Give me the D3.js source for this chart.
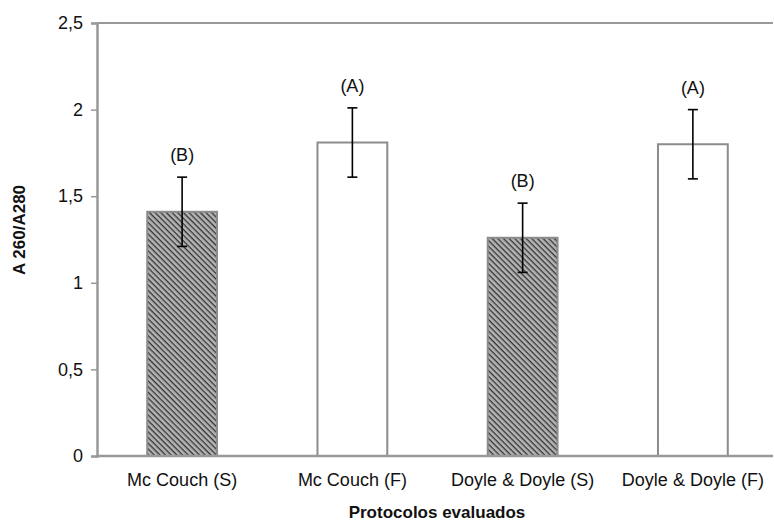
<!DOCTYPE html>
<html><head><meta charset="utf-8">
<script src="https://cdn.jsdelivr.net/npm/d3@7"></script>
<style>body{margin:0;background:#fff}svg{display:block;font-family:"Liberation Sans",Arial,sans-serif}</style>
</head><body>
<svg id="c" width="774" height="523"></svg>
<script>
const categories = ["Mc Couch (S)", "Mc Couch (F)", "Doyle & Doyle (S)", "Doyle & Doyle (F)"];
const values = [1.41, 1.81, 1.26, 1.80];
const errors = [0.2, 0.2, 0.2, 0.2];
const letters = ["(B)", "(A)", "(B)", "(A)"];
const hatched = [true, false, true, false];
const yTicks = [0, 0.5, 1, 1.5, 2, 2.5];
const yTickLabels = ["0", "0,5", "1", "1,5", "2", "2,5"];

const svg = d3.select("#c");
const L = 97, R = 778, T = 23, B = 456;
const FONT = "Liberation Sans, Arial, sans-serif";
const x = d3.scaleBand().domain(categories).range([L, R]).paddingInner(0.59).paddingOuter(0.295);
const y = d3.scaleLinear().domain([0, 2.5]).range([B, T]);

const defs = svg.append("defs");
const pat = defs.append("pattern").attr("id", "hatch").attr("patternUnits", "userSpaceOnUse")
  .attr("width", 4).attr("height", 4).attr("patternTransform", "rotate(45)");
pat.append("rect").attr("width", 4).attr("height", 4).attr("fill", "#b4b4b4");
pat.append("rect").attr("width", 4).attr("height", 1.3).attr("fill", "#333");

// top frame line
svg.append("line").attr("x1", L).attr("x2", 773).attr("y1", y(2.5)).attr("y2", y(2.5))
  .attr("stroke", "#999").attr("stroke-width", 2);

// bars
svg.selectAll("rect.bar").data(categories).join("rect").attr("class", "bar")
  .attr("x", d => x(d)).attr("width", x.bandwidth())
  .attr("y", (d, i) => y(values[i])).attr("height", (d, i) => B - y(values[i]))
  .attr("fill", (d, i) => hatched[i] ? "url(#hatch)" : "#fff")
  .attr("stroke", "#8c8c8c").attr("stroke-width", 2);

// y axis
const yAxis = d3.axisLeft(y).tickValues(yTicks).tickFormat((d, i) => yTickLabels[i]).tickSize(6).tickPadding(8);
const ga = svg.append("g").attr("transform", `translate(${L},0)`).call(yAxis);
ga.select(".domain").attr("stroke", "#999").attr("stroke-width", 2.5);
ga.selectAll(".tick line").attr("stroke", "#999").attr("stroke-width", 1.5);
ga.selectAll(".tick text").attr("font-size", 18).attr("fill", "#111").attr("font-family", FONT);

// x axis
const xAxis = d3.axisBottom(x).tickSize(0).tickPadding(17);
const gx = svg.append("g").attr("transform", `translate(0,${B})`).call(xAxis);
gx.select(".domain").attr("d", `M${L},0H773`).attr("stroke", "#999").attr("stroke-width", 2.5);
gx.selectAll(".tick text").attr("font-size", 18).attr("fill", "#111").attr("font-family", FONT);

// error bars
const eb = svg.append("g").attr("stroke", "#000").attr("stroke-width", 1.6);
categories.forEach((c, i) => {
  const cx = x(c) + x.bandwidth() / 2;
  const y1 = y(values[i] + errors[i]), y0 = y(values[i] - errors[i]);
  eb.append("line").attr("x1", cx).attr("x2", cx).attr("y1", y1).attr("y2", y0);
  eb.append("line").attr("x1", cx - 5).attr("x2", cx + 5).attr("y1", y1).attr("y2", y1);
  eb.append("line").attr("x1", cx - 5).attr("x2", cx + 5).attr("y1", y0).attr("y2", y0);
});

// letters
svg.selectAll("text.lab").data(categories).join("text").attr("class", "lab")
  .attr("x", d => x(d) + x.bandwidth() / 2)
  .attr("y", (d, i) => y(values[i] + errors[i]) - 16)
  .attr("text-anchor", "middle").attr("font-size", 18).attr("fill", "#111").attr("font-family", FONT)
  .text((d, i) => letters[i]);

// axis titles
svg.append("text").attr("x", 437).attr("y", 518).attr("text-anchor", "middle").attr("font-family", FONT)
  .attr("font-size", 17).attr("font-weight", "bold").attr("fill", "#111").text("Protocolos evaluados");
svg.append("text").attr("transform", "translate(25,230) rotate(-90)").attr("text-anchor", "middle").attr("font-family", FONT)
  .attr("font-size", 17).attr("font-weight", "bold").attr("fill", "#111").text("A 260/A280");
</script>
</body></html>
